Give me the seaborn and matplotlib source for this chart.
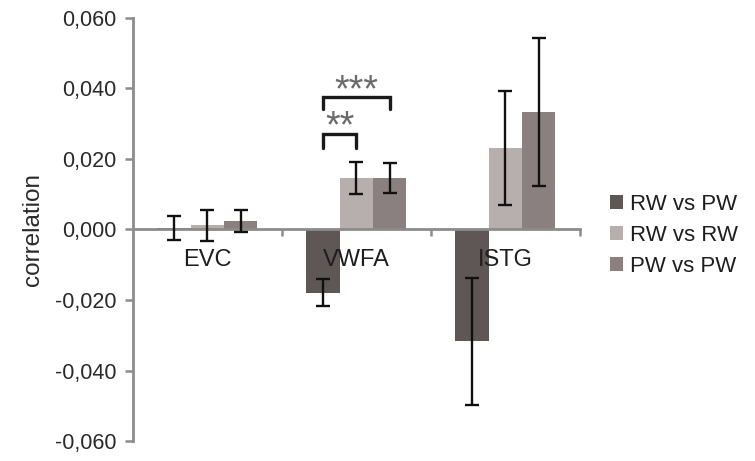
import matplotlib
matplotlib.use('Agg')
import matplotlib.pyplot as plt
import matplotlib.ticker as mticker
import seaborn as sns
import pandas as pd

# data
Regions = ['EVC', 'VWFA', 'ISTG']
Conditions = ['RW vs PW', 'RW vs RW', 'PW vs PW']
RW_vs_PW = [0.0004, -0.0180, -0.0317]
RW_vs_RW = [0.0012, 0.0145, 0.0230]
PW_vs_PW = [0.0024, 0.0145, 0.0333]
Err_RW_vs_PW = [0.0034, 0.0038, 0.0180]
Err_RW_vs_RW = [0.0044, 0.0046, 0.0162]
Err_PW_vs_PW = [0.0032, 0.0042, 0.0210]
Palette = ['#5f5656', '#b7afad', '#8a807f']

Rows = []
for Cond, Vals, Errs in zip(Conditions, [RW_vs_PW, RW_vs_RW, PW_vs_PW], [Err_RW_vs_PW, Err_RW_vs_RW, Err_PW_vs_PW]):
    for Reg, V, E in zip(Regions, Vals, Errs):
        Rows.append({'Region': Reg, 'Condition': Cond, 'Value': V, 'Err': E})
Data = pd.DataFrame(Rows)

sns.set_style('white')
plt.rcParams['font.family'] = ['Liberation Sans', 'DejaVu Sans']

Figure = plt.figure(figsize=(7.55, 4.61), dpi=100)
Axis = Figure.add_axes([0.176, 0.043, 0.592, 0.919])

sns.barplot(data=Data, x='Region', y='Value', hue='Condition', order=Regions, hue_order=Conditions,
            palette=Palette, width=0.67, errorbar=None, saturation=1, linewidth=0, ax=Axis)

# error bars at the bar centres
Centers = {}
for Cond, Container in zip(Conditions, Axis.containers):
    Sub = Data[Data['Condition'] == Cond].set_index('Region').loc[Regions]
    Xs = [P.get_x() + P.get_width() / 2 for P in Container.patches]
    Centers[Cond] = Xs
    Axis.errorbar(Xs, Sub['Value'], yerr=Sub['Err'], fmt='none', ecolor='#111111',
                  elinewidth=1.7, capsize=5, capthick=1.7, zorder=5)

# significance brackets over VWFA
def Bracket(X1, X2, Y_Low, Y_High, Label, Y_Text):
    Axis.plot([X1, X1, X2, X2], [Y_Low, Y_High, Y_High, Y_Low], color='#1a1a1a', lw=2.4,
              solid_joinstyle='miter', zorder=6)
    Axis.text((X1 + X2) / 2, Y_Text, Label, ha='center', va='center', fontsize=27, color='#6a6a6a')

Bracket(Centers['RW vs PW'][1], Centers['RW vs RW'][1], 0.0231, 0.0269, '**', 0.0288)
Bracket(Centers['RW vs PW'][1], Centers['PW vs PW'][1], 0.0342, 0.0375, '***', 0.0392)

Axis.set_xlim(-0.5, 2.5)
Axis.set_ylim(-0.06, 0.06)
Axis.set_yticks([-0.06, -0.04, -0.02, 0.0, 0.02, 0.04, 0.06])
Axis.yaxis.set_major_formatter(mticker.FuncFormatter(lambda V, P: f'{V:.3f}'.replace('.', ',')))
Axis.tick_params(axis='y', direction='out', length=6, width=1.8, color='#8c8c8c',
                 labelsize=15.5, labelcolor='#2a2a2a', pad=6, left=True)
Axis.set_ylabel('correlation', fontsize=17.5, color='#2a2a2a', labelpad=8)
Axis.set_xlabel('')

# x axis through zero, ticks between categories
for Side in ['top', 'right']:
    Axis.spines[Side].set_visible(False)
Axis.spines['bottom'].set_position(('data', 0))
for Side in ['left', 'bottom']:
    Axis.spines[Side].set_color('#8c8c8c')
    Axis.spines[Side].set_linewidth(2)
Axis.set_xticks([0.5, 1.5, 2.5])
Axis.set_xticklabels([])
Axis.tick_params(axis='x', direction='out', length=5, width=1.8, color='#8c8c8c', bottom=True)
for Index, Reg in enumerate(Regions):
    Axis.text(Index, -0.0088, Reg, ha='center', va='center', fontsize=17, color='#1e1e1e', zorder=7)

Handles, Labels = Axis.get_legend_handles_labels()
Axis.legend(Handles, Labels, loc='center left', bbox_to_anchor=(0.808, 0.49), bbox_transform=Figure.transFigure,
            frameon=False, fontsize=16, handlelength=0.6, handleheight=0.6, handletextpad=0.3,
            labelspacing=0.45, borderpad=0, borderaxespad=0, labelcolor='#1e1e1e')

Figure.savefig('out.png', dpi=100)
